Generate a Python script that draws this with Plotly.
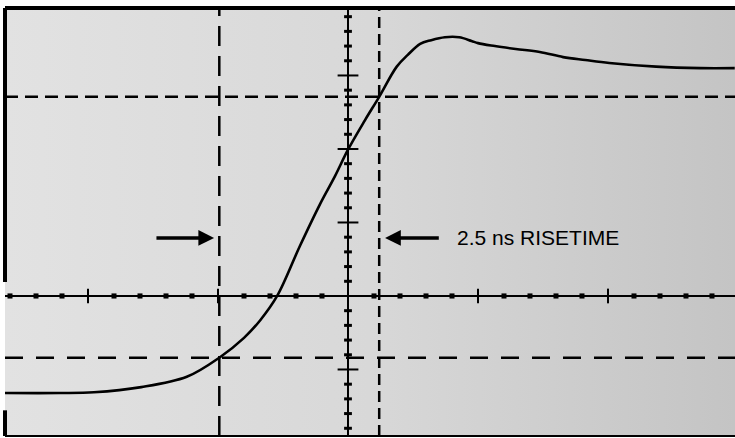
import plotly.graph_objects as go

# Oscilloscope trace: time in ns (2 ns/div), amplitude in vertical divisions
time_ns = [-5.28, -4.43, -3.91, -3.18, -2.48, -1.98, -1.60, -1.35, -1.09, -0.74,
           -0.43, -0.20, 0.0, 0.26, 0.48, 0.75, 0.92, 1.11, 1.28, 1.49, 1.71,
           1.90, 2.0, 2.26, 2.58, 2.95, 3.31, 3.65, 4.02, 4.74, 5.42, 5.95]
amplitude_div = [-1.32, -1.32, -1.31, -1.24, -1.10, -0.84, -0.57, -0.33, 0.0, 0.68,
                 1.25, 1.63, 1.99, 2.39, 2.71, 3.12, 3.28, 3.43, 3.48, 3.52, 3.52,
                 3.47, 3.44, 3.40, 3.36, 3.32, 3.25, 3.21, 3.17, 3.12, 3.10, 3.10]

# 10% / 90% reference levels and their time crossings
level_10_90 = [-0.84, 2.71]
cursor_times = [-1.98, 0.48]
risetime_label = "2.5 ns RISETIME"

X_RANGE = [-5.277, 5.954]
Y_RANGE = [-1.905, 3.918]

fig = go.Figure()

# halftone-like background
fig.add_trace(go.Scatter(
    x=[X_RANGE[0], X_RANGE[1], X_RANGE[1], X_RANGE[0], X_RANGE[0]],
    y=[Y_RANGE[0], Y_RANGE[0], Y_RANGE[1], Y_RANGE[1], Y_RANGE[0]],
    mode="none", fill="toself",
    fillgradient=dict(type="horizontal",
                      colorscale=[[0, "#e2e2e2"], [0.5, "#d8d8d8"], [1, "#c4c4c4"]]),
    hoverinfo="skip", showlegend=False))

fig.add_trace(go.Scatter(x=time_ns, y=amplitude_div, mode="lines",
                         line=dict(color="black", width=2.6, shape="spline", smoothing=1.0),
                         hoverinfo="skip", showlegend=False))

shapes = []
# graticule center lines
shapes.append(dict(type="line", xref="paper", yref="y", x0=0, x1=1, y0=0, y1=0,
                   line=dict(color="black", width=2)))
shapes.append(dict(type="line", xref="x", yref="paper", x0=0, x1=0, y0=0, y1=1,
                   line=dict(color="black", width=2)))
# horizontal axis ticks (0.4 ns minor, 2 ns major)
for i in range(-13, 15):
    t = i * 0.4
    if i == 0:
        continue
    major = (i % 5 == 0)
    h = 0.1 if major else 0.035
    shapes.append(dict(type="line", xref="x", yref="y", x0=t, x1=t, y0=-h, y1=h,
                       line=dict(color="black", width=2 if major else 5)))
# vertical axis ticks (0.2 div minor, 1 div major)
for i in range(-9, 20):
    v = i * 0.2
    if i == 0:
        continue
    major = (i % 5 == 0)
    w = 0.16 if major else 0.06
    shapes.append(dict(type="line", xref="x", yref="y", x0=-w, x1=w, y0=v, y1=v,
                       line=dict(color="black", width=2 if major else 3)))
# 10% and 90% dashed levels
shapes.append(dict(type="line", xref="paper", yref="y", x0=0, x1=1,
                   y0=level_10_90[0], y1=level_10_90[0],
                   line=dict(color="black", width=2.5, dash="18px,13px")))
shapes.append(dict(type="line", xref="paper", yref="y", x0=0, x1=1,
                   y0=level_10_90[1], y1=level_10_90[1],
                   line=dict(color="black", width=2.5, dash="13px,7px")))
# time cursors
shapes.append(dict(type="line", xref="x", yref="paper", x0=cursor_times[0], x1=cursor_times[0],
                   y0=0, y1=1, line=dict(color="black", width=2.5, dash="20px,10px")))
shapes.append(dict(type="line", xref="x", yref="paper", x0=cursor_times[1], x1=cursor_times[1],
                   y0=0, y1=1, line=dict(color="black", width=2.5, dash="11px,6px")))
# bezel borders
shapes.append(dict(type="line", xref="paper", yref="paper", x0=0, x1=1, y0=1, y1=1,
                   line=dict(color="black", width=4)))
shapes.append(dict(type="line", xref="paper", yref="paper", x0=0, x1=1, y0=0, y1=0,
                   line=dict(color="black", width=2)))
shapes.append(dict(type="line", xref="paper", yref="paper", x0=0, x1=0, y0=0.36, y1=1,
                   line=dict(color="black", width=4)))
shapes.append(dict(type="line", xref="paper", yref="paper", x0=0, x1=0, y0=0, y1=0.06,
                   line=dict(color="black", width=4)))

annotations = [
    dict(x=-2.06, y=0.79, ax=-2.97, ay=0.79, xref="x", yref="y", axref="x", ayref="y",
         text="", showarrow=True, arrowhead=2, arrowsize=0.9, arrowwidth=3.5, arrowcolor="black"),
    dict(x=0.57, y=0.79, ax=1.42, ay=0.79, xref="x", yref="y", axref="x", ayref="y",
         text="", showarrow=True, arrowhead=2, arrowsize=0.9, arrowwidth=3.5, arrowcolor="black"),
    dict(x=1.65, y=0.79, xref="x", yref="y", text=risetime_label, showarrow=False,
         xanchor="left", yanchor="middle",
         font=dict(family="Liberation Sans, Arial, sans-serif", size=21, color="black")),
]

fig.update_layout(
    width=735, height=438,
    margin=dict(l=5, r=0, t=8, b=2),
    paper_bgcolor="white", plot_bgcolor="#dadada",
    xaxis=dict(range=X_RANGE, showgrid=False, zeroline=False, showticklabels=False,
               ticks="", fixedrange=True),
    yaxis=dict(range=Y_RANGE, showgrid=False, zeroline=False, showticklabels=False,
               ticks="", fixedrange=True),
    shapes=shapes, annotations=annotations, showlegend=False)

fig.write_html("out.html", config={"displayModeBar": False},
               post_script="document.body.style.margin='0px';document.body.style.overflow='hidden';")
